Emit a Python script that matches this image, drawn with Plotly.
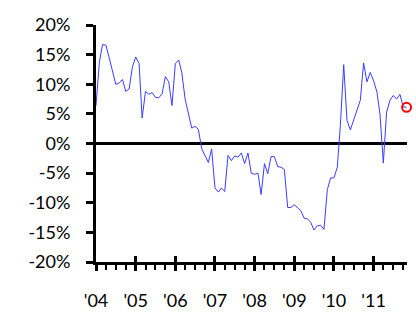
import pandas as pd
import plotly.graph_objects as go

# Monthly values (%), Jan 2004 .. Nov 2011
values = [
    6.4, 13.7, 16.7, 16.6, 14.5, 12.0, 10.0, 10.2, 10.8, 8.8, 9.2, 12.9,   # 2004
    14.6, 13.5, 4.3, 8.8, 8.3, 8.6, 7.8, 7.7, 8.4, 11.3, 10.4, 6.4,        # 2005
    13.5, 14.1, 12.0, 7.5, 5.0, 2.6, 2.9, 2.4, -0.9, -2.0, -3.2, -0.9,     # 2006
    -7.5, -8.2, -7.5, -8.1, -2.0, -2.9, -2.1, -2.3, -1.6, -3.4, -1.6, -5.0,  # 2007
    -5.2, -5.0, -8.6, -3.4, -5.1, -2.2, -2.2, -3.9, -4.0, -4.4, -10.8, -10.8,  # 2008
    -10.3, -10.9, -11.3, -12.6, -12.7, -13.3, -14.6, -13.9, -13.8, -14.5, -7.8, -5.8,  # 2009
    -5.8, -4.0, 3.0, 13.3, 3.9, 2.3, 3.9, 5.3, 7.3, 13.6, 10.4, 12.0,      # 2010
    10.6, 8.7, 5.0, -3.3, 5.3, 7.3, 8.1, 7.5, 8.3, 6.2, 6.1,               # 2011
]
dates = pd.date_range("2004-01-01", periods=len(values), freq="MS")

year_ticks = pd.date_range("2004-01-01", "2011-01-01", freq="YS")
year_labels = ["'04", "'05", "'06", "'07", "'08", "'09", "'10", "'11"]
y_ticks = [-20, -15, -10, -5, 0, 5, 10, 15, 20]
y_labels = ["-20%", "-15%", "-10%", "-5%", "0%", "5%", "10%", "15%", "20%"]

x_range = ["2004-01-01", "2011-11-05"]
font = dict(family="Lato, Carlito, 'Liberation Sans', sans-serif", size=18, color="black")

fig = go.Figure()
fig.add_trace(go.Scatter(
    x=dates, y=values, mode="lines",
    line=dict(color="#3c3cff", width=1), hoverinfo="skip", showlegend=False,
))
fig.add_trace(go.Scatter(
    x=[dates[-1]], y=[values[-1]], mode="markers", cliponaxis=False,
    marker=dict(symbol="circle-open", size=9, color="#ff0000", line=dict(width=2, color="#ff0000")),
    showlegend=False, hoverinfo="skip",
))
# invisible trace to bind the overlay axis (for crossing major ticks)
fig.add_trace(go.Scatter(
    x=[dates[0]], y=[values[0]], mode="markers", marker=dict(opacity=0),
    xaxis="x2", showlegend=False, hoverinfo="skip",
))

fig.update_layout(
    width=416, height=313,
    margin=dict(l=96, r=9, t=25, b=51, autoexpand=False),
    paper_bgcolor="white", plot_bgcolor="white",
    font=font,
    xaxis=dict(
        type="date", range=x_range, showgrid=False, zeroline=False, automargin=False,
        showline=True, linecolor="black", linewidth=3,
        tickmode="array", tickvals=year_ticks, ticktext=year_labels,
        ticks="outside", ticklen=6, tickwidth=2.5, tickcolor="black",
        ticklabelstandoff=14,
        minor=dict(tickmode="linear", tick0="2004-01-01", dtick="M3",
                   ticks="outside", ticklen=5, tickwidth=2, tickcolor="black", showgrid=False),
        tickfont=font,
    ),
    xaxis2=dict(
        type="date", range=x_range, overlaying="x", anchor="y", side="bottom",
        showgrid=False, zeroline=False, showline=False, automargin=False,
        tickmode="array", tickvals=year_ticks, ticks="inside", ticklen=6,
        tickwidth=2.5, tickcolor="black", showticklabels=False,
    ),
    yaxis=dict(
        range=[-20, 20], showgrid=False, automargin=False,
        zeroline=True, zerolinecolor="black", zerolinewidth=3,
        showline=True, linecolor="black", linewidth=3,
        tickmode="array", tickvals=y_ticks, ticktext=y_labels,
        ticks="outside", ticklen=7, tickwidth=2.5, tickcolor="black",
        ticklabelstandoff=12, tickfont=font,
    ),
)

fig.write_html("out.html", config={"displayModeBar": False},
               post_script="document.body.style.margin='0px';")
